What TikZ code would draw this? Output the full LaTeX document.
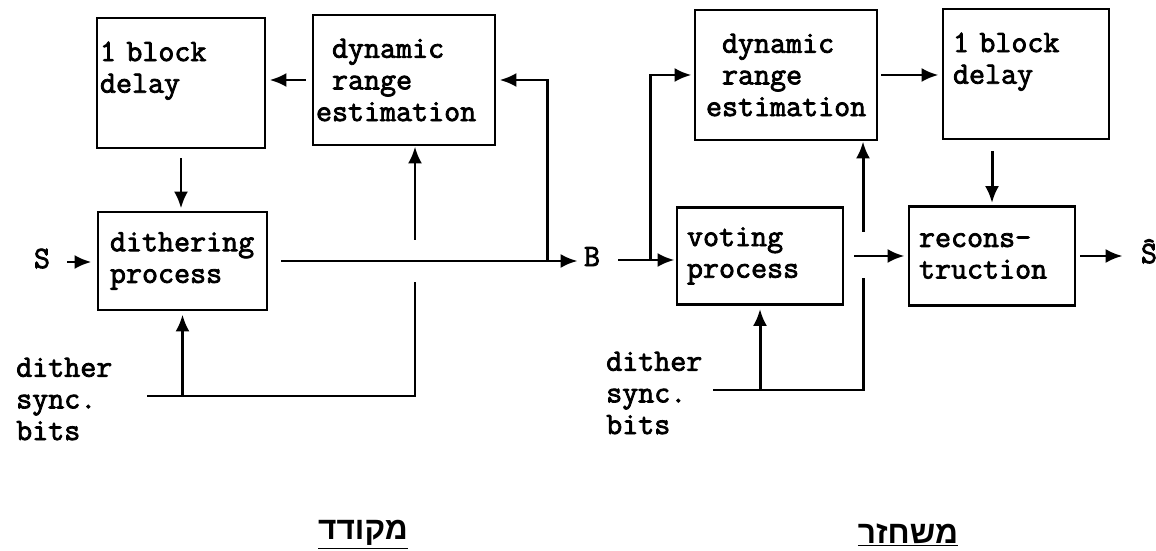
\documentclass[tikz,border=0pt]{standalone}
\usepackage{fontspec}
\newfontfamily\twfont{Latin Modern Mono}[FakeBold=2.5]
\newfontfamily\hebfont[Script=Hebrew]{Liberation Sans}
\TeXXeTstate=1
\usetikzlibrary{arrows.meta, positioning, calc}

\tikzset{
    blk/.style={draw, line width=1.6pt, align=left, inner xsep=2mm, inner ysep=0pt},
    conn/.style={line width=1.7pt, -{Latex[length=3.4mm,width=2.8mm]}},
    wire/.style={line width=1.7pt},
    lbl/.style={inner sep=0pt, text height=1.6ex, text depth=0pt}
}

\begin{document}
\begin{tikzpicture}[x=0.2mm, y=-0.2mm, font=\twfont\fontsize{17.7pt}{18pt}\selectfont]
        \useasboundingbox (0,0) rectangle (1156,551);
        %encoder blocks
        \node[blk, inner xsep=0.6mm, text width=32.4mm, minimum height=26mm] (delL) at (181,83) {1 block\\delay\\\mbox{}};
        \node[blk, inner xsep=0.6mm, text width=35.2mm, minimum height=26mm] (drL) at (404,80) {\phantom{e}dynamic\\\phantom{e}range\\estimation};
        \node[blk, inner xsep=2.4mm, text width=29mm, minimum height=19.6mm] (dithL) at (182.5,261) {dithering\\process};
        %decoder blocks
        \node[blk, inner xsep=2.2mm, text width=32mm, minimum height=26mm] (drR) at (786,75) {\phantom{e}dynamic\\\phantom{e}range\\estimation};
        \node[blk, text width=29.2mm, minimum height=26mm] (delR) at (1026,74) {1 block\\delay\\\mbox{}};
        \node[blk, text width=29.2mm, minimum height=19.4mm] (votR) at (760,256) {voting\\process};
        \node[blk, text width=29.2mm, minimum height=19.8mm] (recR) at (992,256) {recons-\\truction};
        %signals
        \node[lbl] (S) at (42,262) {S};
        \node[lbl] (B) at (592,260) {B};
        \node[lbl] (Sh) at (1149,257) {\^{S}};
        \node[align=left, anchor=west] (synL) at (10,399) {dither\\sync.\\bits};
        \node[align=left, anchor=west] (synR) at (600,393) {dither\\sync.\\bits};
        %hebrew titles
        \node (encT) at (363,535) {\hebfont\bfseries\fontsize{18pt}{20pt}\selectfont\underline{\beginR מקודד\endR}};
        \node (decT) at (908,535) {\hebfont\bfseries\fontsize{18pt}{20pt}\selectfont\underline{\beginR משחזר\endR}};
        %encoder connections
        \draw[conn, shorten <=3.4mm, shorten >=1mm] (S.east) -- (S.east -| dithL.west);
        \draw[conn, shorten <=2.6mm, shorten >=1.2mm] (dithL.east) -- (dithL.east -| B.west);
        \coordinate (fbL) at (547,261);
        \draw[conn, shorten >=0.6mm] (fbL) |- (drL.east);
        \draw[conn, shorten <=1.2mm, shorten >=0.6mm] (drL.west) -- (drL.west -| delL.east);
        \draw[conn, shorten <=1.8mm, shorten >=0.4mm] (delL.south) -- (delL.south |- dithL.north);
        %encoder sync bits
        \coordinate (syL) at (147,396);
        \coordinate (crL) at (415,396);
        \coordinate (gLlo) at (415,282);
        \coordinate (gLhi) at (415,240);
        \draw[wire] (syL) -- (crL) -- (gLlo);
        \draw[conn] (gLhi) -- (gLhi |- drL.south);
        \draw[conn, shorten >=0.6mm] (dithL.south |- syL) -- (dithL.south);
        %decoder connections
        \draw[conn, shorten <=3.6mm, shorten >=0.2mm] (B.east) -- (B.east -| votR.west);
        \coordinate (brR) at (650,260);
        \draw[conn, shorten >=0.4mm] (brR) |- (drR.west);
        \draw[conn, shorten <=0.6mm, shorten >=0.6mm] (drR.east) -- (drR.east -| delR.west);
        \draw[conn, shorten <=2.2mm, shorten >=0.4mm] (recR.north |- delR.south) -- (recR.north);
        \draw[conn, shorten <=2mm, shorten >=0.6mm] (votR.east) -- (votR.east -| recR.west);
        \draw[conn, shorten <=0.8mm, shorten >=3.6mm] (recR.east) -- (recR.east -| Sh.west);
        %decoder sync bits
        \coordinate (syR) at (713,390);
        \coordinate (crR) at (863,390);
        \coordinate (gRlo) at (863,278);
        \coordinate (gRhi) at (863,232);
        \draw[wire] (syR) -- (crR) -- (gRlo);
        \draw[conn] (gRhi) -- (gRhi |- drR.south);
        \draw[conn, shorten >=0.6mm] (votR.south |- syR) -- (votR.south);
\end{tikzpicture}
\end{document}
